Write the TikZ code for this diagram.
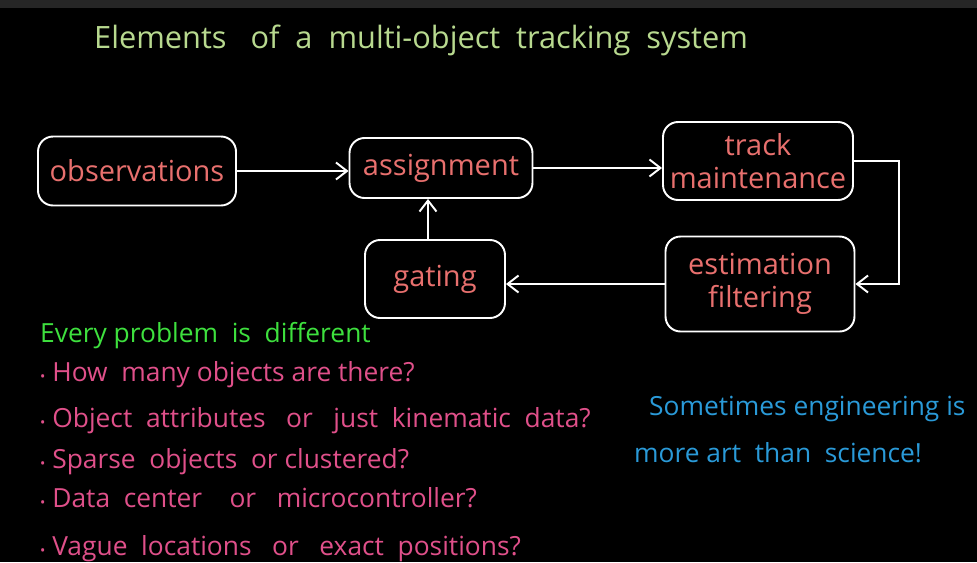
\documentclass[tikz,border=0pt]{standalone}
\usepackage{fontspec}
\setmainfont{Open Sans}
\usetikzlibrary{arrows.meta}
\definecolor{boardgrey}{HTML}{262626}
\definecolor{titlegreen}{HTML}{B8D98F}
\definecolor{boxpink}{HTML}{E8706E}
\definecolor{listpink}{HTML}{E0508A}
\definecolor{brightgreen}{HTML}{3EE03E}
\definecolor{skyblue}{HTML}{2A9AD8}
\tikzset{
  block/.style={rectangle, draw=white, line width=1.1pt, rounded corners=3mm, text=boxpink, align=center, font=\fontsize{16.5}{19}\selectfont},
  flow/.style={draw=white, line width=1.1pt, -{Straight Barb[length=2.2mm, width=3.4mm]}},
  note/.style={anchor=base west, font=\fontsize{15}{17}\selectfont}
}
\begin{document}
\begin{tikzpicture}[x=0.02cm, y=-0.02cm]
\useasboundingbox (0,0) rectangle (977,562);
\fill[black] (0,0) rectangle (977,562);
\fill[boardgrey] (0,0) rectangle (977,8);
\node[anchor=base west, text=titlegreen, font=\fontsize{17.5}{20}\selectfont] (title) at (88,48) {Elements \ \ of \ a \ multi-object \ tracking \ system};

\node[block, minimum width=3.96cm, minimum height=1.38cm] (obs) at (137,171) {observations};
\node[block, minimum width=3.66cm, minimum height=1.2cm] (assign) at (441,168) {assignment};
\node[block, minimum width=3.8cm, minimum height=1.56cm] (track) at (758,161) {track\\maintenance};
\node[block, minimum width=3.78cm, minimum height=1.9cm] (est) at (760,284) {estimation\\filtering};
\node[block, minimum width=2.8cm, minimum height=1.56cm] (gating) at (435,279) {gating};

\draw[flow] (obs.east) -- (obs.east -| assign.west);
\draw[flow] (assign.east) -- (assign.east -| track.west);
\draw[flow] (track.east) -- ++(45,0) |- (est.east);
\draw[flow] (est.west) -- (est.west -| gating.east);
\draw[flow] (gating.north -| 428,0) -- (assign.south -| 428,0);

\node[note, text=brightgreen] (every) at (34,342) {Every problem \ is \ different};
\node[note, text=listpink] (q1) at (34,381) {{\fontsize{8}{8}\selectfont •} How \ many objects are there?};
\node[note, text=listpink] (q2) at (34,427) {{\fontsize{8}{8}\selectfont •} Object \ attributes \ \ or \ \ just \ kinematic \ data?};
\node[note, text=listpink] (q3) at (34,468) {{\fontsize{8}{8}\selectfont •} Sparse \ objects \ or clustered?};
\node[note, text=listpink] (q4) at (34,507) {{\fontsize{8}{8}\selectfont •} Data \ center \ \ \ or \ \ microcontroller?};
\node[note, text=listpink] (q5) at (34,555) {{\fontsize{8}{8}\selectfont •} Vague \ locations \ \ or \ \ exact \ positions?};

\node[note, text=skyblue] (art1) at (643,415) {Sometimes engineering is};
\node[note, text=skyblue] (art2) at (628,462) {more art \ than \ science!};
\end{tikzpicture}
\end{document}
